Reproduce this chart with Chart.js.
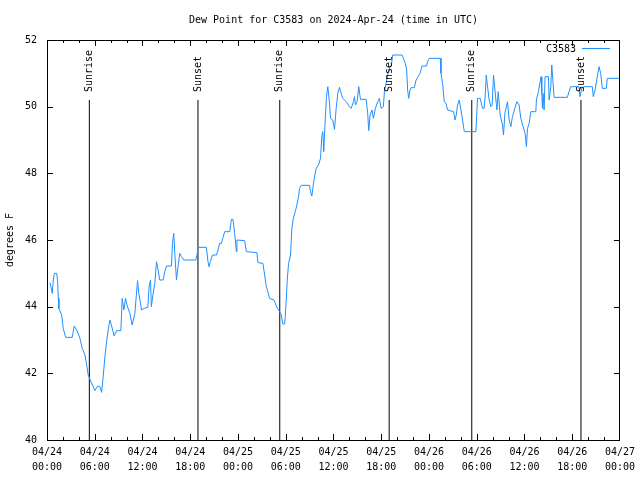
<!DOCTYPE html>
<html>
<head>
<meta charset="utf-8">
<script src="https://cdn.jsdelivr.net/npm/chart.js@4/dist/chart.umd.min.js"></script>
<style>
  html, body { margin: 0; padding: 0; background: #ffffff; }
  #c { display: block; }
</style>
</head>
<body>
<canvas id="c" width="640" height="480"></canvas>
<script>
// ---- data (hours since 2024-04-24 00:00 UTC) ----
const hours = [
  0.38,0.66,0.79,0.92,1.22,1.34,1.42,1.5,1.84,2.04,2.35,3.17,3.42,3.73,4.14,4.43,4.77,5.02,5.18,5.39,5.71,6.02,6.36,6.65,6.86,7.06,7.28,7.49,7.69,7.9,
  8.09,8.44,8.74,9.28,9.45,9.66,9.87,10.04,10.41,10.7,11.04,11.38,11.54,11.88,12.2,12.67,12.83,13.01,13.11,13.34,13.55,13.76,13.96,14.17,14.59,14.8,15.02,15.64,15.77,15.93,
  16.06,16.27,16.47,16.68,16.9,17.19,18.69,18.85,18.98,20.03,20.23,20.36,20.53,20.79,21.29,21.49,21.7,21.91,22.12,22.33,22.96,23.08,23.17,23.37,23.58,23.8,23.87,24.84,25.05,26.38,
  26.5,27.13,27.35,27.56,27.76,27.97,28.51,28.69,28.94,29.23,29.44,29.64,29.86,29.94,30.07,30.19,30.36,30.61,30.77,30.95,31.2,31.4,31.61,31.74,31.95,32.99,33.12,33.28,33.46,33.62,
  33.83,34.12,34.37,34.53,34.66,34.78,34.96,35.12,35.29,35.5,35.63,35.91,36.13,36.34,36.54,36.75,36.96,37.17,37.6,38.01,38.22,38.51,38.64,38.76,38.97,39.18,39.39,40.1,40.3,40.43,
  40.6,40.85,41.02,41.27,41.56,41.77,41.99,42.27,42.4,42.61,42.94,43.11,43.28,43.44,44.62,44.78,45.03,45.2,45.32,45.45,45.62,45.75,46.16,46.38,46.58,46.88,47.13,47.7,47.83,48.04,
  49.42,49.51,49.71,49.92,50.14,50.34,51.09,51.27,51.43,51.59,51.81,52.02,52.22,52.44,53.9,54.03,54.1,54.44,54.73,54.94,55.07,55.2,55.36,55.57,55.78,55.94,56.11,56.29,56.54,56.7,
  56.95,57.24,57.37,57.54,57.87,58.08,58.29,58.49,58.79,59.04,59.33,59.54,59.83,60.08,60.25,60.38,60.59,60.8,61.43,61.5,61.75,61.93,62.09,62.18,62.26,62.34,62.47,62.59,63.01,63.1,
  63.31,63.43,63.6,63.72,65.39,65.6,65.81,66.85,66.98,67.2,67.49,68.53,68.65,68.87,69.15,69.37,69.58,69.78,70.29,70.41,72.0
];
const dewPointF = [
  44.72,44.4,44.8,45.0,45.0,44.75,44.25,43.94,43.75,43.35,43.08,43.08,43.42,43.3,43.05,42.75,42.55,42.2,41.95,41.82,41.65,41.48,41.62,41.6,41.43,41.9,42.5,42.95,43.3,43.6,
  43.45,43.12,43.28,43.28,44.25,43.9,44.25,44.05,43.8,43.45,43.8,44.78,44.4,43.9,43.95,43.98,44.6,44.8,44.0,44.4,44.7,45.35,45.1,44.8,44.8,45.05,45.22,45.22,45.9,46.2,
  45.6,44.8,45.2,45.6,45.5,45.4,45.4,45.55,45.78,45.78,45.35,45.2,45.35,45.55,45.55,45.7,45.9,45.9,46.08,46.25,46.25,46.45,46.62,46.62,46.2,45.65,46.0,45.98,45.65,45.62,
  45.32,45.3,44.95,44.6,44.45,44.25,44.2,44.1,43.95,43.85,43.75,43.48,43.48,43.7,44.22,44.8,45.3,45.55,46.35,46.65,46.85,47.05,47.3,47.55,47.64,47.64,47.45,47.32,47.64,47.9,
  48.15,48.25,48.45,49.1,49.25,48.65,49.6,50.3,50.6,50.12,49.65,49.6,49.32,49.95,50.4,50.58,50.4,50.25,50.15,50.0,49.95,50.15,50.3,50.05,50.15,50.6,50.22,50.22,49.8,49.28,
  49.75,49.9,49.65,49.95,50.15,50.25,49.95,50.0,50.45,50.7,51.1,51.2,51.25,51.55,51.55,51.45,51.3,51.1,50.5,50.25,50.5,50.57,50.57,50.8,50.88,51.0,51.22,51.22,51.35,51.45,
  51.45,51.0,50.7,50.15,50.1,49.9,49.85,49.6,49.75,50.05,50.2,49.9,49.6,49.25,49.25,49.9,50.25,50.25,49.95,49.95,50.35,50.95,50.6,50.2,50.0,50.05,50.95,50.5,49.9,50.45,
  49.75,49.45,49.15,49.8,50.15,49.6,49.4,49.7,49.95,50.15,50.05,49.65,49.4,49.2,48.8,49.35,49.5,49.85,49.85,50.2,50.45,50.7,50.9,50.4,49.95,50.4,49.9,50.9,50.9,50.2,
  50.6,51.25,50.7,50.28,50.28,50.45,50.6,50.6,50.3,50.55,50.6,50.6,50.3,50.5,50.9,51.2,51.0,50.55,50.55,50.85,50.85
];
const tickDates = ['04/24','04/24','04/24','04/24','04/25','04/25','04/25','04/25','04/26','04/26','04/26','04/26','04/27'];
const tickTimes = ['00:00','06:00','12:00','18:00','00:00','06:00','12:00','18:00','00:00','06:00','12:00','18:00','00:00'];
const yTickValues = [40,42,44,46,48,50,52];
const eventHours = [5.32, 18.97, 29.25, 43.0, 53.38, 67.1];
const eventNames = ['Sunrise','Sunset','Sunrise','Sunset','Sunrise','Sunset'];
const eventTop = 50.2;
const seriesName = 'C3583';
const chartTitle = 'Dew Point for C3583 on 2024-Apr-24 (time in UTC)';
const yTitle = 'degrees F';

const FONT = "'DejaVu Sans Mono', 'Liberation Mono', monospace";
const LINE_COLOR = '#1E90FF';

const datasets = [{
  label: seriesName,
  data: hours.map((h, i) => ({ x: h, y: dewPointF[i] })),
  borderColor: LINE_COLOR,
  borderWidth: 1,
  pointRadius: 0,
  tension: 0,
  fill: false
}];
eventHours.forEach((h, i) => {
  datasets.push({
    label: eventNames[i],
    data: [{ x: h, y: 40 }, { x: h, y: eventTop }],
    borderColor: '#000000',
    borderWidth: 1,
    pointRadius: 0,
    fill: false
  });
});

const decor = {
  id: 'decor',
  afterDraw(chart) {
    const ctx = chart.ctx;
    const a = chart.chartArea;
    const xs = chart.scales.x, ys = chart.scales.y;
    ctx.save();
    ctx.strokeStyle = '#000';
    ctx.lineWidth = 1;
    // frame
    ctx.strokeRect(Math.round(a.left) + 0.5, Math.round(a.top) + 0.5, Math.round(a.right - a.left) - 1, Math.round(a.bottom - a.top));
    // x ticks (major 6h, minor 2h), inward on bottom and top
    ctx.beginPath();
    for (let h = 2; h < 72; h += 2) {
      const px = Math.round(xs.getPixelForValue(h)) + 0.5;
      const len = (h % 6 === 0) ? 6 : 3;
      ctx.moveTo(px, a.bottom); ctx.lineTo(px, a.bottom - len);
      ctx.moveTo(px, a.top); ctx.lineTo(px, a.top + len);
    }
    // y ticks inward on left and right
    yTickValues.forEach(v => {
      if (v === 40 || v === 52) return;
      const py = Math.round(ys.getPixelForValue(v)) + 0.5;
      ctx.moveTo(a.left, py); ctx.lineTo(a.left + 6, py);
      ctx.moveTo(a.right, py); ctx.lineTo(a.right - 6, py);
    });
    ctx.stroke();

    ctx.fillStyle = '#000';
    ctx.font = '10px ' + FONT;
    // title
    ctx.textAlign = 'center';
    ctx.textBaseline = 'middle';
    ctx.fillText(chartTitle, (a.left + a.right) / 2, 20);
    // event labels
    eventHours.forEach((h, i) => {
      const px = xs.getPixelForValue(h);
      ctx.save();
      ctx.translate(px, ys.getPixelForValue(eventTop) - 8);
      ctx.rotate(-Math.PI / 2);
      ctx.textAlign = 'left';
      ctx.textBaseline = 'middle';
      ctx.fillText(eventNames[i], 0, 0);
      ctx.restore();
    });
    // legend
    ctx.textAlign = 'right';
    ctx.textBaseline = 'middle';
    ctx.fillText(seriesName, 576, 49);
    ctx.strokeStyle = LINE_COLOR;
    ctx.beginPath();
    ctx.moveTo(582, 48.5); ctx.lineTo(610, 48.5);
    ctx.stroke();
    ctx.restore();
  }
};

new Chart(document.getElementById('c'), {
  type: 'line',
  data: { datasets },
  plugins: [decor],
  options: {
    responsive: false,
    devicePixelRatio: 1,
    animation: false,
    events: [],
    layout: { padding: { left: 0, right: 19, top: 40, bottom: 0 } },
    plugins: { legend: { display: false }, title: { display: false }, tooltip: { enabled: false } },
    scales: {
      x: {
        type: 'linear',
        min: 0, max: 72,
        afterFit(s) { s.height = 40; },
        afterBuildTicks(s) { s.ticks = tickDates.map((d, i) => ({ value: i * 6 })); },
        ticks: {
          autoSkip: false,
          maxRotation: 0,
          padding: 5,
          color: '#000',
          font: { family: FONT, size: 10, lineHeight: 1.5 },
          callback: (v) => { const i = Math.round(v / 6); return [tickDates[i], tickTimes[i]]; }
        },
        grid: { display: false, drawTicks: false },
        border: { display: false }
      },
      y: {
        type: 'linear',
        min: 40, max: 52,
        afterFit(s) { s.width = 47; },
        afterBuildTicks(s) { s.ticks = yTickValues.map(v => ({ value: v })); },
        ticks: {
          padding: 10,
          color: '#000',
          font: { family: FONT, size: 10 },
          callback: (v) => String(v)
        },
        title: {
          display: true,
          text: yTitle,
          color: '#000',
          font: { family: FONT, size: 10 },
          padding: { top: 4, bottom: 0 }
        },
        grid: { display: false, drawTicks: false },
        border: { display: false }
      }
    }
  }
});
</script>
</body>
</html>
